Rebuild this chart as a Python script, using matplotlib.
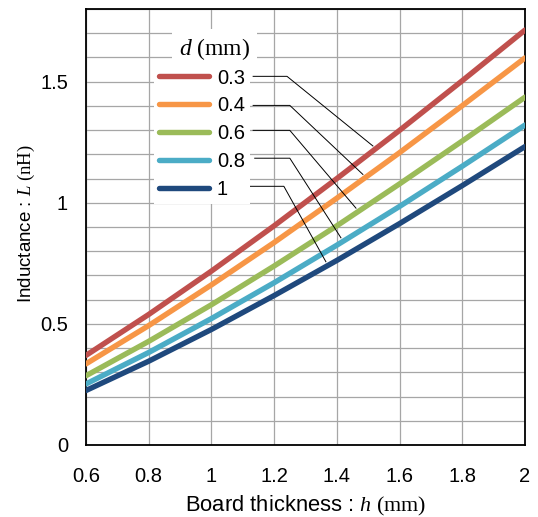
import numpy as np
import matplotlib
matplotlib.use('Agg')
import matplotlib.pyplot as plt
from matplotlib.ticker import MultipleLocator, FuncFormatter

plt.rcParams['font.family'] = ['Liberation Sans', 'DejaVu Sans']
plt.rcParams['mathtext.fontset'] = 'custom'
plt.rcParams['mathtext.rm'] = 'Liberation Serif'
plt.rcParams['mathtext.it'] = 'Liberation Serif:italic'

# board thickness h (mm)
h = [0.6, 0.8, 1.0, 1.2, 1.4, 1.6, 1.8, 2.0]
# via diameter d (mm) and inductance L (nH)
d_labels = ['0.3', '0.4', '0.6', '0.8', '1']
L_03 = [0.370, 0.539, 0.718, 0.905, 1.100, 1.299, 1.504, 1.713]
L_04 = [0.335, 0.493, 0.661, 0.836, 1.019, 1.207, 1.401, 1.598]
L_06 = [0.286, 0.428, 0.579, 0.739, 0.905, 1.078, 1.255, 1.436]
L_08 = [0.252, 0.382, 0.522, 0.670, 0.825, 0.985, 1.151, 1.321]
L_10 = [0.225, 0.346, 0.477, 0.617, 0.762, 0.914, 1.071, 1.232]
series = [L_03, L_04, L_06, L_08, L_10]
colors = ['#C0504D', '#F79646', '#9BBB59', '#4BACC6', '#1F497D']

# where the leader lines from the labels touch each curve (h value)
leader_h = [1.515, 1.483, 1.461, 1.413, 1.365]
# label row heights (in L units) and horizontal stub ends
leader_y0 = [1.522, 1.402, 1.299, 1.184, 1.068]
leader_x0 = [1.133, 1.133, 1.133, 1.138, 1.081]
leader_x1 = [1.241, 1.250, 1.250, 1.250, 1.231]

fig = plt.figure(figsize=(5.38, 5.17), dpi=100)
ax = fig.add_axes([86/538, 1-445/517, 439/538, 436/517])

for L, c, lab in zip(series, colors, d_labels):
    ax.plot(h, L, color=c, lw=3.9, solid_capstyle='round', label=lab, zorder=3)

for i in range(5):
    yt = np.interp(leader_h[i], h, series[i]) + 0.02
    ax.plot([leader_x0[i], leader_x1[i], leader_h[i]],
            [leader_y0[i], leader_y0[i], yt], color='black', lw=0.7, zorder=4)

ax.set_xlim(0.6, 2.0)
ax.set_ylim(0, 1.8)
ax.xaxis.set_major_locator(MultipleLocator(0.2))
ax.yaxis.set_major_locator(MultipleLocator(0.5))
ax.yaxis.set_minor_locator(MultipleLocator(0.1))
fmt = FuncFormatter(lambda v, p: f'{v:g}')
ax.xaxis.set_major_formatter(fmt)
ax.yaxis.set_major_formatter(fmt)
ax.grid(True, which='both', color='#A6A6A6', lw=0.9, zorder=0)
ax.set_axisbelow(True)
ax.tick_params(which='both', length=0, labelsize=14.5)
ax.tick_params(axis='y', pad=13)
ax.tick_params(axis='x', pad=16)
for s in ax.spines.values():
    s.set_linewidth(1.3)

ax.set_xlabel(r'Board thickness : $h\ \mathrm{(mm)}$', fontsize=15.8)
ax.xaxis.set_label_coords(0.5, -0.112)
ax.set_ylabel(r'Inductance : $L\ \mathrm{(nH)}$', fontsize=13.5)
ax.yaxis.set_label_coords(-0.111, 0.508)

leg = ax.legend(loc='upper left', bbox_to_anchor=(0.155, 0.875),
                fontsize=14.5, handlelength=2.5, handletextpad=0.37,
                labelspacing=0.44, borderpad=0.25, borderaxespad=0,
                frameon=True, fancybox=False)
leg.get_frame().set_facecolor('white')
leg.get_frame().set_edgecolor('none')
leg.get_frame().set_alpha(1)
leg.set_zorder(5)

# legend title in its own white box
ax.text(0.292, 0.908, r'$d\ \mathrm{(mm)}$', transform=ax.transAxes,
        fontsize=17, ha='center', va='center', zorder=6,
        bbox=dict(boxstyle='square,pad=0.3', fc='white', ec='none'))

plt.savefig('out.png', dpi=100)
